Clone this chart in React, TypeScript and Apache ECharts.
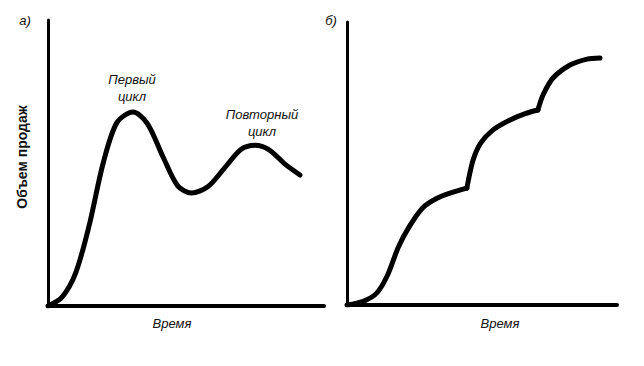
import React, { useEffect, useRef } from "react";
import * as echarts from "echarts";

// Panel a) — sales volume over time (relative units 0–100)
const curveA: [number, number][] = [
  [0, 0], [5, 3], [10, 11.5], [15, 28.5], [20, 50], [25, 64.2], [30.8, 67.8],
  [36, 63.8], [41.7, 52.1], [47, 42], [52, 39.5], [58, 41.8], [64, 48.3],
  [70, 54.8], [75, 56.2], [80, 54.7], [86, 49.5], [91.3, 45.8],
];

// Panel б) — three consecutive cycles
const curveB1: [number, number][] = [
  [0, 0], [6, 1.3], [11, 4.2], [15, 10.5], [19, 20.4], [23, 27.6],
  [28, 34.3], [33.5, 37.8], [39, 39.8], [44.4, 41.3],
];
const curveB2: [number, number][] = [
  [44.4, 41.3], [46.7, 51.2], [49.5, 57.2], [54, 61.8], [60, 65.2],
  [66, 67.6], [70.7, 68.9],
];
const curveB3: [number, number][] = [
  [70.7, 68.9], [72.6, 74.2], [76.3, 80.2], [82.6, 84.8], [88.9, 86.9], [93.7, 87.3],
];

const panelLabels = ["а)", "б)"];
const xAxisTitle = "Время";
const yAxisTitle = "Объем продаж";
const annotations = ["Первый\nцикл", "Повторный\nцикл"];

const FONT = "'Liberation Sans', Arial, sans-serif";

export default function App() {
  const ref = useRef<HTMLDivElement>(null);
  useEffect(() => {
    if (!ref.current) return;
    const chart = echarts.init(ref.current, undefined, { renderer: "svg" });
    const axisLine = (w: number) => ({ show: true, lineStyle: { color: "#000", width: w } });
    const xAxisBase = (gi: number) => ({
      type: "value" as const, gridIndex: gi, min: 0, max: 100,
      axisLine: axisLine(4), axisTick: { show: false }, axisLabel: { show: false },
      splitLine: { show: false },
    });
    const yAxisBase = (gi: number) => ({
      type: "value" as const, gridIndex: gi, min: 0, max: 100,
      axisLine: axisLine(3), axisTick: { show: false }, axisLabel: { show: false },
      splitLine: { show: false },
    });
    const lineSeries = (data: [number, number][], gi: number, smooth: number) => ({
      type: "line" as const, xAxisIndex: gi, yAxisIndex: gi, data,
      smooth, showSymbol: false, symbol: "none",
      lineStyle: { color: "#000", width: 5, cap: "round" as const, join: "round" as const },
    });
    const italic = { fontFamily: FONT, fontStyle: "italic", fontSize: 13, fill: "#111" };
    chart.setOption({
      animation: false,
      backgroundColor: "#fff",
      grid: [
        { left: 48, top: 20, width: 276, height: 286 },
        { left: 347, top: 22, width: 270, height: 283 },
      ],
      xAxis: [xAxisBase(0), xAxisBase(1)],
      yAxis: [yAxisBase(0), yAxisBase(1)],
      series: [
        lineSeries(curveA, 0, 0.3),
        lineSeries(curveB1, 1, 0.3),
        lineSeries(curveB2, 1, 0.3),
        lineSeries(curveB3, 1, 0.3),
      ],
      graphic: [
        { type: "text", x: 25, y: 20, style: { ...italic, text: panelLabels[0], align: "center", verticalAlign: "middle" } },
        { type: "text", x: 331, y: 20, style: { ...italic, text: panelLabels[1], align: "center", verticalAlign: "middle" } },
        { type: "text", x: 132, y: 88, style: { ...italic, text: annotations[0], align: "center", verticalAlign: "middle", lineHeight: 17 } },
        { type: "text", x: 262, y: 123, style: { ...italic, text: annotations[1], align: "center", verticalAlign: "middle", lineHeight: 17 } },
        { type: "text", x: 172, y: 323, style: { ...italic, text: xAxisTitle, align: "center", verticalAlign: "middle" } },
        { type: "text", x: 500, y: 323, style: { ...italic, text: xAxisTitle, align: "center", verticalAlign: "middle" } },
        {
          type: "text", x: 22, y: 157, rotation: Math.PI / 2,
          style: { fontFamily: FONT, fontWeight: "bold", fontSize: 14, fill: "#111", text: yAxisTitle, align: "center", verticalAlign: "middle" },
        },
      ],
    });
    return () => chart.dispose();
  }, []);
  return <div ref={ref} style={{ width: 644, height: 366, margin: -8 }} />;
}
